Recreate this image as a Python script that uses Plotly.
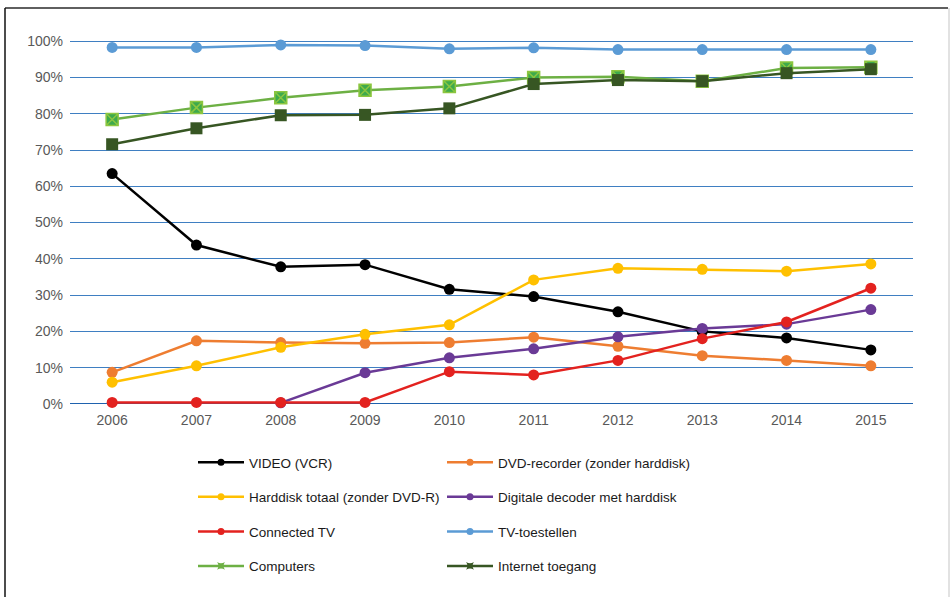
import plotly.graph_objects as go

# Household ownership share per year (percent)
years = [2006, 2007, 2008, 2009, 2010, 2011, 2012, 2013, 2014, 2015]

video_vcr = [63.5, 43.8, 37.8, 38.4, 31.6, 29.6, 25.4, 20.0, 18.2, 14.9]
dvd_recorder = [8.7, 17.4, 16.9, 16.7, 16.9, 18.4, 15.9, 13.3, 12.0, 10.5]
harddisk_totaal = [6.0, 10.5, 15.6, 19.2, 21.8, 34.2, 37.4, 37.1, 36.6, 38.6]
digitale_decoder = [None, None, 0.3, 8.6, 12.7, 15.2, 18.5, 20.8, 22.0, 26.0]
connected_tv = [0.4, 0.4, 0.4, 0.4, 8.9, 8.0, 12.0, 18.0, 22.6, 31.9]
tv_toestellen = [98.3, 98.3, 99.0, 98.8, 97.9, 98.2, 97.7, 97.7, 97.7, 97.7]
computers = [78.4, 81.7, 84.4, 86.5, 87.5, 90.0, 90.2, 89.0, 92.6, 92.8]
internet_toegang = [71.6, 76.0, 79.6, 79.7, 81.5, 88.2, 89.3, 89.0, 91.2, 92.3]

y_ticks = [0, 10, 20, 30, 40, 50, 60, 70, 80, 90, 100]
y_tick_labels = [f"{v}%" for v in y_ticks]

# (name, values, colour, marker symbol, legend, rank)
series = [
    ("VIDEO (VCR)", video_vcr, "#000000", "circle", "legend", 1),
    ("DVD-recorder (zonder harddisk)", dvd_recorder, "#EE7D31", "circle", "legend2", 1),
    ("Harddisk totaal (zonder DVD-R)", harddisk_totaal, "#FFC000", "circle", "legend", 2),
    ("Digitale decoder met harddisk", digitale_decoder, "#6A3A96", "circle", "legend2", 2),
    ("Connected TV", connected_tv, "#E3221F", "circle", "legend", 3),
    ("TV-toestellen", tv_toestellen, "#5B9BD5", "circle", "legend2", 3),
    ("Computers", computers, "#6DB044", "square-x", "legend", 4),
    ("Internet toegang", internet_toegang, "#375623", "square", "legend2", 4),
]

# Plot area in pixels (figure is 950 x 597)
W, H = 950, 597
L, R, T, B = 70, 37, 34, 192
PW, PH = W - L - R, H - T - B


def xp(px):
    return (px - L) / PW


def yp(py):
    return (H - B - py) / PH


fig = go.Figure()

for name, values, color, symbol, legend_id, rank in series:
    if symbol == "square-x":
        marker = dict(symbol=symbol, size=12, color="#3EAA4C",
                      line=dict(color="#8CC63F", width=1.5))
    elif symbol == "square":
        marker = dict(symbol=symbol, size=12, color=color)
    else:
        marker = dict(symbol=symbol, size=11, color=color)
    fig.add_trace(go.Scatter(
        x=years, y=values, name=name, mode="lines+markers",
        line=dict(color=color, width=2.5), marker=marker,
        cliponaxis=False, showlegend=False, connectgaps=False,
    ))

# Legend entries with small markers
for name, values, color, symbol, legend_id, rank in series:
    sym = "circle" if symbol == "circle" else "star-square"
    fig.add_trace(go.Scatter(
        x=[None], y=[None], name=name, mode="lines+markers",
        line=dict(color=color, width=2.5),
        marker=dict(symbol=sym, size=7, color=color),
        legend=legend_id, legendrank=rank, legendgroup=name,
        showlegend=True,
    ))

legend_style = dict(
    orientation="v", yanchor="top", xanchor="left",
    font=dict(family="Liberation Sans, Arial, sans-serif", size=13.5, color="#1a1a1a"),
    bgcolor="rgba(0,0,0,0)", tracegroupgap=14, itemwidth=46,
    traceorder="grouped",
)

fig.update_layout(
    width=W, height=H,
    margin=dict(l=L, r=R, t=T, b=B),
    paper_bgcolor="#ffffff", plot_bgcolor="#ffffff",
    font=dict(family="Liberation Sans, Arial, sans-serif", size=14, color="#595959"),
    xaxis=dict(
        range=[2005.5, 2015.5], tickmode="array", tickvals=years,
        ticktext=[str(y) for y in years], showgrid=False, zeroline=False,
        showline=False, ticks="", tickfont=dict(size=14, color="#595959"),
        ticklabelstandoff=5,
    ),
    yaxis=dict(
        range=[-0.3, 102], tickmode="array", tickvals=y_ticks,
        ticktext=y_tick_labels, showgrid=True, gridcolor="#3F7FC2",
        gridwidth=1.2, zeroline=True, zerolinecolor="#1F62AE", zerolinewidth=1.4,
        ticks="", tickfont=dict(size=14, color="#595959"),
        ticklabelstandoff=6,
    ),
    legend=dict(x=xp(193), y=yp(447), **legend_style),
    legend2=dict(x=xp(442), y=yp(447), **legend_style),
    shapes=[
        # outer frame
        dict(type="line", xref="paper", yref="paper", x0=xp(5), x1=xp(948),
             y0=yp(8), y1=yp(8), line=dict(color="#2a2a2a", width=1.5)),
        dict(type="line", xref="paper", yref="paper", x0=xp(5), x1=xp(5),
             y0=yp(8), y1=yp(597), line=dict(color="#111111", width=1.5)),
        dict(type="line", xref="paper", yref="paper", x0=xp(949), x1=xp(949),
             y0=yp(8), y1=yp(597), line=dict(color="#d8d8d8", width=1.5)),
    ],
)

fig.write_html("out.html")
